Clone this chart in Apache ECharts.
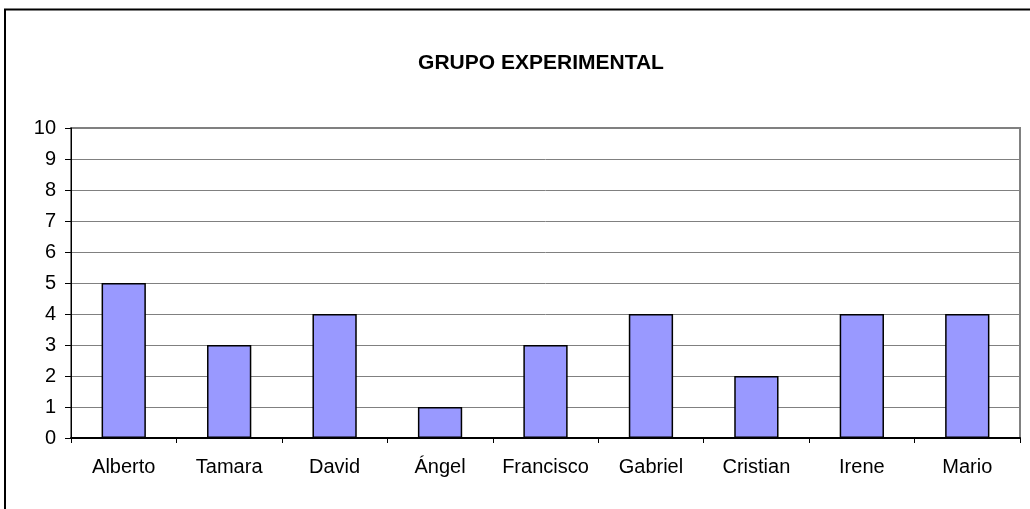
<!DOCTYPE html>
<html><head><meta charset="utf-8">
<script src="https://cdn.jsdelivr.net/npm/echarts@6/dist/echarts.min.js"></script>
<style>html,body{margin:0;padding:0;background:#fff}#c{width:1030px;height:509px}</style>
</head><body><div id="c"></div>
<script>
const titleText = 'GRUPO EXPERIMENTAL';
const categories = ['Alberto','Tamara','David','Ángel','Francisco','Gabriel','Cristian','Irene','Mario'];
const values = [5,3,4,1,3,4,2,4,4];
const yTicks = [0,1,2,3,4,5,6,7,8,9,10];

const chart = echarts.init(document.getElementById('c'), null, {renderer:'canvas'});
const font = 'Liberation Sans, Arial, sans-serif';
chart.setOption({
  animation:false,
  backgroundColor:'#fff',
  title:{text:titleText, left:536, top:48, textAlign:'center',
    textStyle:{fontFamily:font, fontSize:21, fontWeight:'bold', color:'#000'}},
  graphic:[
    {type:'rect', shape:{x:5, y:9.5, width:1100, height:600}, style:{fill:null, stroke:'#000', lineWidth:2}, z:-1},
    {type:'rect', shape:{x:71, y:128, width:949, height:310}, style:{fill:null, stroke:'#808080', lineWidth:2}, z:0}
  ],
  grid:{left:71, top:128, width:949, height:310, containLabel:false},
  xAxis:{type:'category', data:categories,
    axisLine:{lineStyle:{color:'#000', width:2}},
    axisTick:{show:true, interval:0, length:5, alignWithLabel:false, lineStyle:{color:'#000', width:1}},
    axisLabel:{interval:0, hideOverlap:false, fontFamily:font, fontSize:20, color:'#000', margin:19},
    splitLine:{show:false}},
  yAxis:{type:'value', min:0, max:10, interval:1,
    axisLine:{show:true, lineStyle:{color:'#000', width:1}},
    axisTick:{show:true, length:6, lineStyle:{color:'#000'}},
    axisLabel:{fontFamily:font, fontSize:20, color:'#000', margin:15,
      formatter:v => yTicks.includes(v) ? String(v) : ''},
    splitLine:{show:true, lineStyle:{color:'#808080', width:1}}},
  series:[{type:'bar', data:values, barWidth:'42%',
    itemStyle:{color:'#9999FF', borderColor:'#000', borderWidth:1.5}}]
});
</script></body></html>
